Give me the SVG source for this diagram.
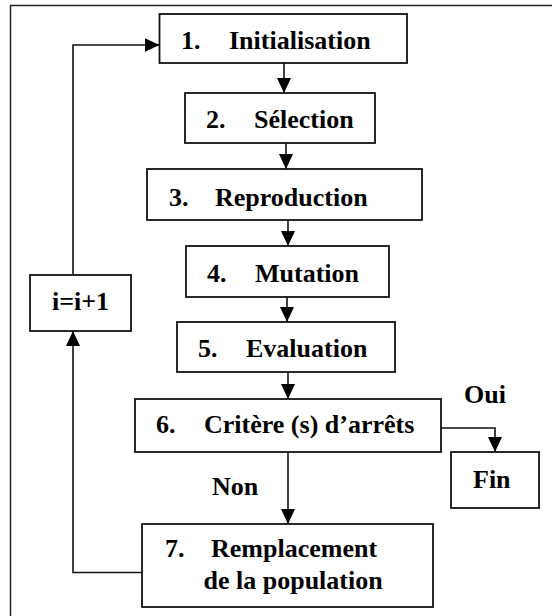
<svg xmlns="http://www.w3.org/2000/svg" width="552" height="616" viewBox="0 0 552 616">
<style>
.box{fill:#fff;stroke:#111;stroke-width:1.8}
.frame{fill:none;stroke:#222;stroke-width:1.5}
.con{fill:none;stroke:#111;stroke-width:1.6}
.t{font-family:'Liberation Serif', 'Times New Roman', Times, serif;font-weight:700;font-size:26px;fill:#000}
</style>
<defs>
<marker id="ah" markerUnits="userSpaceOnUse" markerWidth="16" markerHeight="16" refX="15" refY="7" orient="auto">
<path d="M0,0 L15,7 L0,14 z" fill="#000"/>
</marker>
</defs>
<rect class="frame" x="10.5" y="5.5" width="600" height="700"/>
<g id="connectors">
<line class="con" x1="284" y1="63" x2="284" y2="93" marker-end="url(#ah)"/>
<line class="con" x1="286" y1="143" x2="286" y2="169" marker-end="url(#ah)"/>
<line class="con" x1="288" y1="220" x2="288" y2="246" marker-end="url(#ah)"/>
<line class="con" x1="287" y1="297" x2="287" y2="322" marker-end="url(#ah)"/>
<line class="con" x1="288" y1="372" x2="288" y2="399" marker-end="url(#ah)"/>
<line class="con" x1="288" y1="452" x2="288" y2="524" marker-end="url(#ah)"/>
<polyline class="con" points="441,428 495,428 495,452" marker-end="url(#ah)"/>
<polyline class="con" points="142,572.5 73,572.5 73,331" marker-end="url(#ah)"/>
<polyline class="con" points="73,275 73,45 159.5,45" marker-end="url(#ah)"/>
</g>
<g class="t" font-family="Liberation Serif" font-weight="bold" font-size="26">
<g id="n1"><rect class="box" x="159.5" y="14" width="247.5" height="49"/><text x="181" y="49">1.</text><text x="229" y="49">Initialisation</text></g>
<g id="n2"><rect class="box" x="185" y="93" width="190" height="50"/><text x="206" y="128">2.</text><text x="254" y="128">Sélection</text></g>
<g id="n3"><rect class="box" x="147" y="169" width="275" height="51"/><text x="169" y="206">3.</text><text x="215" y="206">Reproduction</text></g>
<g id="n4"><rect class="box" x="186" y="246" width="203" height="51"/><text x="207" y="282">4.</text><text x="255" y="282">Mutation</text></g>
<g id="n5"><rect class="box" x="177" y="322" width="218" height="50"/><text x="198" y="357">5.</text><text x="246" y="357">Evaluation</text></g>
<g id="n6"><rect class="box" x="135" y="399" width="306" height="53"/><text x="156" y="433">6.</text><text x="204" y="433">Critère (s) d’arrêts</text></g>
<g id="fin"><rect class="box" x="451" y="452" width="88" height="56"/><text x="473" y="488">Fin</text></g>
<g id="n7"><rect class="box" x="142" y="524" width="291" height="83"/><text x="165" y="557">7.</text><text x="211" y="557">Remplacement</text><text x="203.5" y="589">de la population</text></g>
<g id="inc"><rect class="box" x="30" y="275" width="101" height="56"/><text x="52" y="310">i=i+1</text></g>
<g id="labels"><text x="464" y="403">Oui</text><text x="212" y="495">Non</text></g>
</g>
</svg>
